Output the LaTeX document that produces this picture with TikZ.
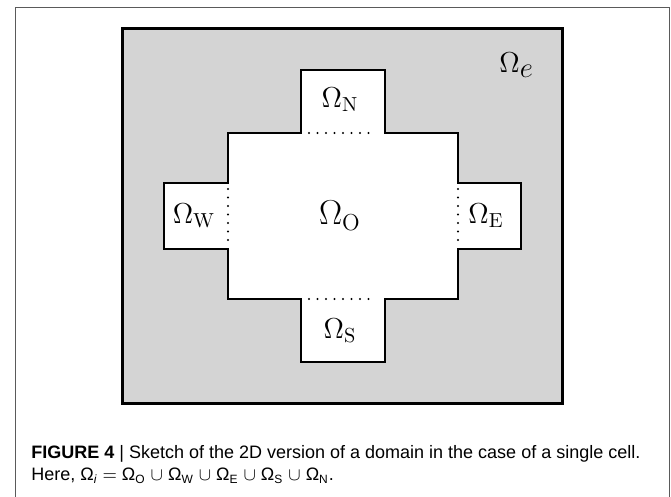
\documentclass[tikz,border=0pt]{standalone}
\usepackage{amsmath,amssymb}
\usepackage{fontspec}
\newfontfamily\capfont{Liberation Sans}
\usepackage{tikz}
\usetikzlibrary{calc}
\definecolor{extgray}{RGB}{212,212,212}
\definecolor{framegray}{RGB}{90,90,90}
\tikzset{
  outerdom/.style = {draw=black, fill=extgray, line width=1.5pt},
  cellwall/.style = {draw=black, fill=white, line width=1pt, line join=miter},
  gate/.style     = {draw=black, line width=1.1pt, dash pattern=on 0pt off 4.25pt, line cap=round},
  lbl/.style      = {font=\fontsize{14.5}{17}\selectfont, inner sep=0pt},
  biglbl/.style   = {font=\fontsize{16.5}{19}\selectfont, inner sep=0pt},
  captext/.style  = {font=\capfont\fontsize{9}{11}\selectfont, anchor=base west, inner sep=0pt}
}
\newcommand\capom[1]{Ω\textsubscript{#1}}

\begin{document}
\begin{tikzpicture}[x=0.5pt, y=-0.5pt]
  \useasboundingbox (0,0) rectangle (671,497);
  % frame round the figure
  \draw[framegray, line width=0.5pt] (15,497) -- (15,8) -- (669,8) -- (669,497);
  % exterior domain
  \draw[outerdom] (122.5,28.5) rectangle (562.5,403.5);
  % the cell
  \draw[cellwall] (228,133) -- (301,133) -- (301,70) -- (385,70) -- (385,133)
    -- (458,133) -- (458,183) -- (521,183) -- (521,249) -- (458,249)
    -- (458,299) -- (385,299) -- (385,362) -- (301,362) -- (301,299)
    -- (228,299) -- (228,249) -- (164,249) -- (164,183) -- (228,183) -- cycle;
  % interfaces
  \draw[gate] (309,133) -- (377,133);
  \draw[gate] (309,299) -- (377,299);
  \draw[gate] (228,189) -- (228,243);
  \draw[gate] (458,189) -- (458,243);
  % labels
  \node[lbl, anchor=base west] (ext) at (499,73) {$\Omega_{\textstyle e}$};
  \node[lbl]    (north) at (340,100) {$\Omega_{\mathrm{N}}$};
  \node[lbl]    (south) at (340,331) {$\Omega_{\mathrm{S}}$};
  \node[lbl]    (west) at (194,216) {$\Omega_{\mathrm{W}}$};
  \node[lbl]    (east) at (486,216) {$\Omega_{\mathrm{E}}$};
  \node[biglbl] (mid)  at (340,216) {$\Omega_{\mathrm{O}}$};
  % caption
  \node[captext] (capa) at (31,459) {\textbf{FIGURE 4} | Sketch of the 2D version of a domain in the case of a single cell.};
  \node[captext] (capb) at (31,481) {Here, \capom{\itshape i} $=$ \capom{O} $\cup$ \capom{W} $\cup$ \capom{E} $\cup$ \capom{S} $\cup$ \capom{N}.};
\end{tikzpicture}
\end{document}
